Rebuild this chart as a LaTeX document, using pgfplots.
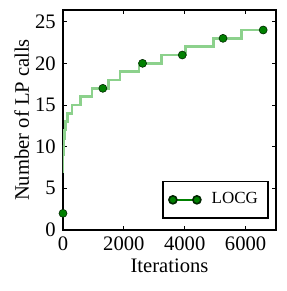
\documentclass[border=0pt]{standalone}
\usepackage{pgfplots}
\pgfplotsset{compat=1.18}
\usepackage{fontspec}
\setmainfont{Liberation Serif}
\definecolor{dgreen}{rgb}{0,0.5,0}
\definecolor{lgreen}{rgb}{0.55,0.82,0.55}
\begin{document}
\fontsize{10.3}{12}\selectfont
\begin{tikzpicture}
\begin{axis}[
  scale only axis,
  width=106.5pt, height=110pt,
  xmin=0, xmax=7000, ymin=0, ymax=26.4,
  xtick={0,2000,4000,6000},
  ytick={0,5,10,15,20,25},
  scaled x ticks=false,
  xticklabel style={/pgf/number format/.cd, set thousands separator={}},
  /pgf/number format/assume math mode=true,
  tick align=inside,
  major tick length=2pt,
  tick style={black, line width=0.5pt},
  axis line style={line width=0.8pt},
  xlabel={Iterations},
  ylabel={Number of LP calls},
  xlabel style={yshift=3pt},
  ylabel style={yshift=-4pt},
  legend style={at={(1,0)}, anchor=south east, xshift=-4pt, yshift=6pt,
    font=\fontsize{8.5}{10}\selectfont, draw=black, line width=0.6pt,
    outer sep=0pt, inner xsep=3pt, inner ysep=3.5pt},
  legend cell align=left,
  legend image code/.code={\path (-1.5pt,0pt) (17pt,0pt); \draw[mark repeat=1,mark phase=1,#1] plot coordinates {(0pt,0pt) (12pt,0pt)};},
]
\addplot[const plot, lgreen, line width=1.2pt, forget plot] coordinates {
(0,7) (3,8) (8,9) (15,10) (25,11) (45,12) (80,13) (150,14) (290,15) (570,16) (960,17) (1500,18) (1870,19) (2500,20) (3240,21) (4030,22) (4950,23) (5870,24) (6600,24)
};
\addplot[only marks, mark=*, mark size=2pt, mark options={fill=dgreen, draw=black!70!dgreen, line width=0.3pt}, forget plot] coordinates {
(0,2) (1310,17) (2615,20) (3920,21) (5260,23) (6580,24)
};
\addlegendimage{dgreen, line width=0.8pt, mark=*, mark size=2pt, mark options={fill=dgreen, draw=black!70!dgreen}}
\addlegendentry{LOCG}
\end{axis}
\pgfresetboundingbox
\path[use as bounding box] (current axis.south west) ++(-31.5pt,-30.5pt) rectangle ([xshift=5.5pt,yshift=5pt]current axis.north east);
\end{tikzpicture}
\end{document}
